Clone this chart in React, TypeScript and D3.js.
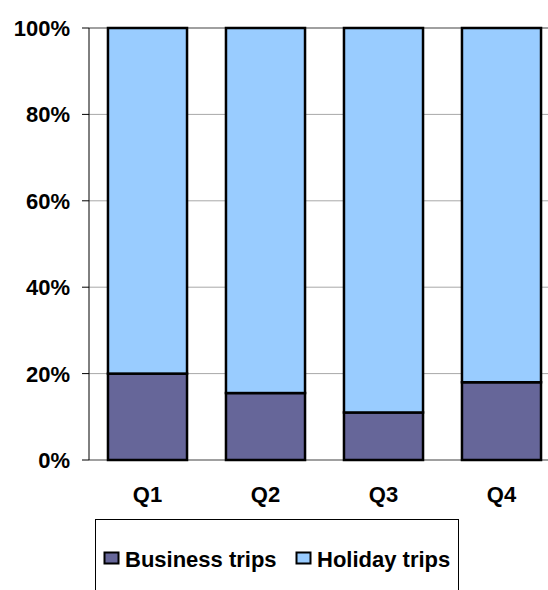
import React from "react";
import * as d3 from "d3";

const categories = ["Q1", "Q2", "Q3", "Q4"];
const business = [20, 15.5, 11, 18];
const holiday = business.map((b) => 100 - b);
const yTicks = [0, 20, 40, 60, 80, 100];
const seriesNames = ["Business trips", "Holiday trips"];
const seriesColors = ["#666699", "#99CCFF"];

const W = 548;
const H = 590;
const FONT = "'Liberation Sans', Arial, sans-serif";

export default function App() {
  const x = d3
    .scaleBand<string>()
    .domain(categories)
    .range([88.5, 560.5])
    .paddingInner(0.33)
    .paddingOuter(0.165);
  const y = d3.scaleLinear().domain([0, 100]).range([460, 28]);

  const stacks = categories.map((c, i) => ({
    c,
    segs: [
      { y0: 0, y1: business[i], color: seriesColors[0] },
      { y0: business[i], y1: business[i] + holiday[i], color: seriesColors[1] },
    ],
  }));

  return (
    <svg
      width={W}
      height={H}
      style={{ position: "absolute", left: 0, top: 0, background: "#fff" }}
      fontFamily={FONT}
    >
      {yTicks.map((t) => (
        <g key={t}>
          {t > 0 && (
            <line
              x1={89}
              x2={W}
              y1={y(t)}
              y2={y(t)}
              stroke={t === 100 ? "#a0a0a0" : "#a8a8a8"}
              strokeWidth={t === 100 ? 2 : 1}
            />
          )}
          <line x1={82} x2={89} y1={y(t)} y2={y(t)} stroke="#000" strokeWidth={1} />
          <text
            x={70}
            y={y(t)}
            dy="0.36em"
            textAnchor="end"
            fontSize={22}
            fontWeight="bold"
            fill="#000"
          >
            {t}%
          </text>
        </g>
      ))}
      <line x1={89} x2={W} y1={460} y2={460} stroke="#a0a0a0" strokeWidth={2} />
      <line x1={89} x2={89} y1={28} y2={460} stroke="#000" strokeWidth={1} />
      {stacks.map((s) =>
        s.segs.map((seg, j) => (
          <rect
            key={s.c + j}
            x={x(s.c)!}
            width={x.bandwidth()}
            y={y(seg.y1)}
            height={y(seg.y0) - y(seg.y1)}
            fill={seg.color}
            stroke="#000"
            strokeWidth={2.5}
          />
        ))
      )}
      {categories.map((c) => (
        <text
          key={c}
          x={x(c)! + x.bandwidth() / 2}
          y={502}
          textAnchor="middle"
          fontSize={22}
          fontWeight="bold"
          fill="#000"
        >
          {c}
        </text>
      ))}
      <rect x={95.5} y={519.5} width={363} height={120} fill="#fff" stroke="#000" strokeWidth={1} />
      {seriesNames.map((n, i) => {
        const mx = i === 0 ? 104 : 296;
        return (
          <g key={n}>
            <rect x={mx + 0.5} y={552.5} width={14} height={11} fill={seriesColors[i]} stroke="#000" strokeWidth={2} />
            <text x={mx + 21} y={567} fontSize={22} fontWeight="bold" fill="#000">
              {n}
            </text>
          </g>
        );
      })}
    </svg>
  );
}
